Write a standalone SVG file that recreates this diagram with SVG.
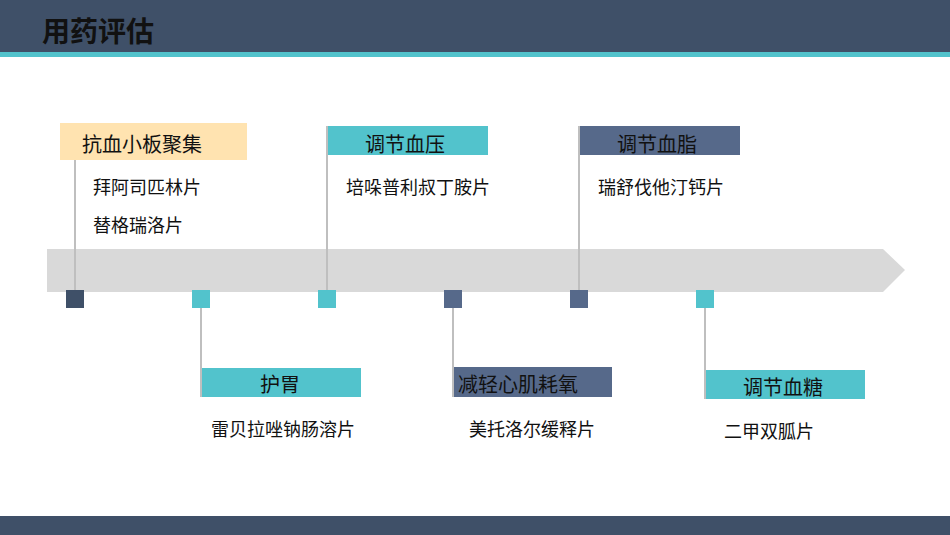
<svg xmlns="http://www.w3.org/2000/svg" width="950" height="535" viewBox="0 0 950 535">
<style>
text{font-family:"Noto Sans CJK SC","Noto Sans",sans-serif;fill:#111}
.h{font-size:20px}.d{font-size:18px}
.ln{stroke:#BFBFBF;stroke-width:2}
.dk{fill:#3F5068}.tl{fill:#52C3CC}.bl{fill:#56698A}
</style>
<rect x="0" y="0" width="950" height="52" fill="#3F5068"/>
<rect x="0" y="52" width="950" height="5" fill="#52C3CC"/>
<text x="42" y="42" font-size="28" font-weight="bold">用药评估</text>
<rect x="0" y="516" width="950" height="19" fill="#3F5068"/>
<polygon points="47,249 883,249 905,270 883,292 47,292" fill="#D9D9D9"/>
<g id="connectors">
<line class="ln" x1="75" y1="160" x2="75" y2="290"/>
<line class="ln" x1="327" y1="126" x2="327" y2="290"/>
<line class="ln" x1="579" y1="126" x2="579" y2="290"/>
<line class="ln" x1="201" y1="308" x2="201" y2="397"/>
<line class="ln" x1="453" y1="308" x2="453" y2="397"/>
<line class="ln" x1="705" y1="308" x2="705" y2="399"/>
</g>
<g id="markers">
<rect class="dk" x="66" y="290" width="18" height="18"/>
<rect class="tl" x="192" y="290" width="18" height="18"/>
<rect class="tl" x="318" y="290" width="18" height="18"/>
<rect class="bl" x="444" y="290" width="18" height="18"/>
<rect class="bl" x="570" y="290" width="18" height="18"/>
<rect class="tl" x="696" y="290" width="18" height="18"/>
</g>
<g id="n1"><rect x="60" y="123" width="187" height="37" fill="#FFE3B0"/><text class="h" x="82" y="152">抗血小板聚集</text>
<text class="d" x="93" y="194">拜阿司匹林片</text><text class="d" x="93" y="232">替格瑞洛片</text></g>
<g id="n2"><rect class="tl" x="328" y="126" width="160" height="29"/><text class="h" x="365" y="152">调节血压</text>
<text class="d" x="346" y="194">培哚普利叔丁胺片</text></g>
<g id="n3"><rect class="bl" x="580" y="126" width="160" height="29"/><text class="h" x="617" y="152">调节血脂</text>
<text class="d" x="598" y="194">瑞舒伐他汀钙片</text></g>
<g id="n4"><rect class="tl" x="202" y="368" width="159" height="29"/><text class="h" x="260" y="392">护胃</text>
<text class="d" x="211" y="436">雷贝拉唑钠肠溶片</text></g>
<g id="n5"><rect class="bl" x="454" y="367" width="158" height="30"/><text class="h" x="458" y="392">减轻心肌耗氧</text>
<text class="d" x="469" y="436">美托洛尔缓释片</text></g>
<g id="n6"><rect class="tl" x="706" y="370" width="159" height="29"/><text class="h" x="743" y="395">调节血糖</text>
<text class="d" x="724" y="438">二甲双胍片</text></g>
</svg>
